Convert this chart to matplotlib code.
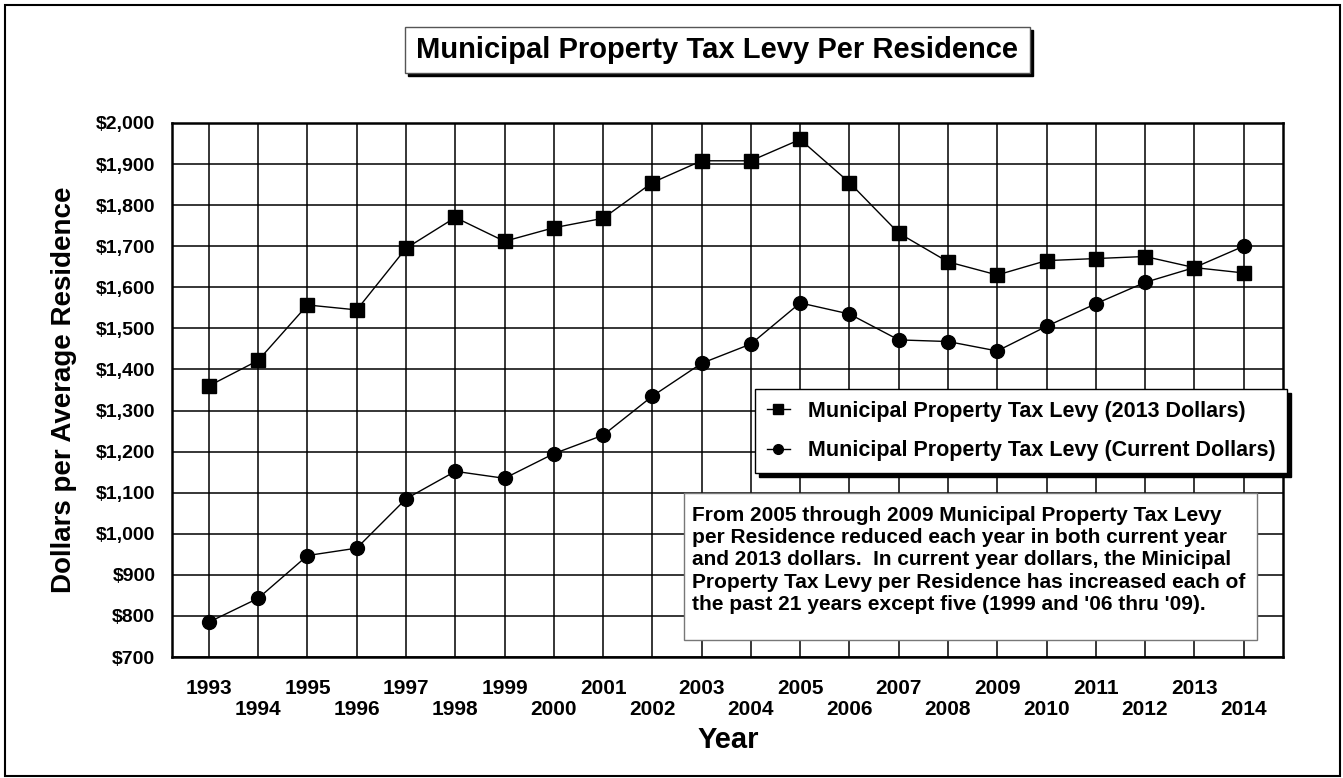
import numpy as np
import matplotlib.pyplot as plt
from matplotlib.patches import Rectangle
from matplotlib.ticker import FuncFormatter

plt.rcParams['font.family'] = ['Liberation Sans', 'DejaVu Sans']
plt.rcParams['font.weight'] = 'bold'

years = list(range(1993, 2015))
levy_2013 = [1360, 1422, 1557, 1545, 1695, 1770, 1712, 1745, 1768, 1855, 1908,
             1908, 1960, 1855, 1732, 1662, 1630, 1665, 1670, 1675, 1648, 1635]
levy_current = [785, 843, 947, 965, 1085, 1152, 1135, 1195, 1240, 1335, 1415,
                1462, 1562, 1535, 1472, 1468, 1445, 1505, 1560, 1612, 1648, 1700]
series_labels = ['Municipal Property Tax Levy (2013 Dollars)',
                 'Municipal Property Tax Levy (Current Dollars)']
note = ("From 2005 through 2009 Municipal Property Tax Levy\n"
        "per Residence reduced each year in both current year\n"
        "and 2013 dollars.  In current year dollars, the Minicipal\n"
        "Property Tax Levy per Residence has increased each of\n"
        "the past 21 years except five (1999 and '06 thru '09).")

W, H = 1343, 778
fig = plt.figure(figsize=(W / 100, H / 100), dpi=100)

def fx(px):
    return px / W

def fy(py):
    return 1 - py / H

# outer border
fig.patches.append(Rectangle((fx(5), fy(776)), fx(1340) - fx(5), fy(5) - fy(776),
                             transform=fig.transFigure, fill=False, ec='black', lw=1.5))

ax = fig.add_axes([fx(172), fy(657), fx(1283) - fx(172), fy(123) - fy(657)])

ax.plot(years, levy_2013, color='black', lw=1, marker='s', ms=10, zorder=3,
        label=series_labels[0])
ax.plot(years, levy_current, color='black', lw=1, marker='o', ms=10, zorder=3,
        label=series_labels[1])

ax.set_xlim(1992.25, 2014.8)
ax.set_ylim(700, 2000)
ax.set_yticks(np.arange(700, 2001, 100))
ax.yaxis.set_major_formatter(FuncFormatter(lambda v, p: '${:,.0f}'.format(v)))

odd = [y for y in years if y % 2 == 1]
even = [y for y in years if y % 2 == 0]
ax.set_xticks(odd)
ax.set_xticks(even, minor=True)
ax.set_xticklabels([str(y) for y in odd])
ax.set_xticklabels([str(y) for y in even], minor=True)
ax.tick_params(axis='x', which='major', length=0, pad=16, labelsize=15)
ax.tick_params(axis='x', which='minor', length=0, pad=31, labelsize=15)
ax.tick_params(axis='y', length=0, pad=12, labelsize=14)

ax.grid(True, which='both', color='black', lw=1.1)
ax.set_axisbelow(True)
for s in ax.spines.values():
    s.set_linewidth(1.8)

# legend
leg = ax.legend(loc='upper right', bbox_to_anchor=(1.0036, 0.502), borderaxespad=0,
                fontsize=15.5, frameon=True, fancybox=False, edgecolor='black',
                framealpha=1, handlelength=1.1, handletextpad=0.8, markerscale=0.7,
                labelspacing=0.85, borderpad=0.55,
                shadow={'color': 'black', 'alpha': 1, 'ox': 3, 'oy': -3})
leg.get_frame().set_linewidth(1)

# note box
ax.add_patch(Rectangle((0.461, 0.0318), 0.9766 - 0.461, 0.307 - 0.0318,
                       transform=ax.transAxes, fc='white', ec='#777777', lw=1, zorder=4))
ax.text(0.468, 0.283, note, transform=ax.transAxes, fontsize=15, va='top', ha='left',
        linespacing=1.22, zorder=5)

# title box with shadow
fig.patches.append(Rectangle((fx(408), fy(76)), fx(1033) - fx(408), fy(30) - fy(76),
                             transform=fig.transFigure, fc='black', ec='black'))
fig.patches.append(Rectangle((fx(405), fy(73)), fx(1030) - fx(405), fy(27) - fy(73),
                             transform=fig.transFigure, fc='white', ec='#555555', lw=1))
fig.text(fx(717), fy(50), 'Municipal Property Tax Levy Per Residence', fontsize=21,
         ha='center', va='center')

fig.text(fx(64), (fy(123) + fy(657)) / 2, 'Dollars per Average Residence', fontsize=20,
         rotation=90, ha='center', va='center')
fig.text(fx(728), fy(740), 'Year', fontsize=21, ha='center', va='center')

fig.savefig('out.png', dpi=100)
